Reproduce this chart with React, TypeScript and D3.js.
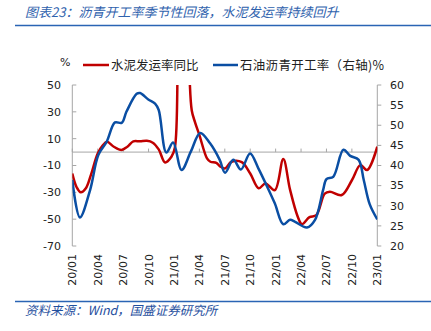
import React from "react";
import * as d3 from "d3";

// month index from 2020/01 (0) to 2023/01 (36)
const redMonths = [0, 0.5, 1.0, 1.6, 2.2, 3.0, 3.6, 4.1, 4.9, 5.8, 6.5, 7.2, 8.0, 8.8, 9.5, 10.2, 10.95, 11.7, 12.1, 12.5, 13.1, 13.7, 14.1, 14.5, 15.0, 15.9, 16.3, 17.0, 17.4, 18.0, 18.8, 20.0, 21.0, 22.0, 22.8, 23.9, 24.9, 25.7, 26.6, 27.1, 28.0, 28.8, 29.8, 30.4, 31.8, 33.0, 34.0, 34.8, 36.0];
const redValues = [-16, -26, -30, -27, -17, -1, 5, 7.7, 4, 1.5, 4, 8, 8, 8.4, 7, 2, -7.7, -3.5, 3, 80, 150, 80, 31, 22, 12.7, -4.7, -7.2, -8, -10.5, -12.2, -7.2, -7.5, -16, -27, -23.4, -28.4, -5.2, -28, -48, -53.7, -48.5, -47, -31, -29.6, -32, -21, -9.7, -13.4, 4];

const blueMonths = [0, 0.9, 2.1, 3.07, 4.06, 5.04, 5.83, 6.4, 7.6, 8.0, 8.97, 9.77, 10.2, 11.1, 11.9, 12.9, 14.0, 15.1, 16.26, 17.4, 18.03, 19.0, 19.9, 20.98, 21.96, 23.1, 23.9, 24.9, 25.7, 26.3, 27.7, 28.65, 29.6, 30.0, 30.8, 32.0, 32.8, 33.8, 34.4, 35.1, 36.0];
const blueValues = [36.4, 27.1, 33.9, 42.6, 45.9, 50.7, 50.6, 53.4, 57.8, 58, 56.4, 55.4, 53.8, 43.2, 45.7, 38.9, 43.5, 48.1, 45.5, 41.4, 38.2, 41.4, 39, 43, 39.3, 34.3, 30.6, 25.4, 26.5, 26, 24.6, 26.5, 33.9, 36.6, 37.2, 43.9, 42.4, 41.4, 36.4, 30.4, 26.6];

const xTickLabels = ["20/01", "20/04", "20/07", "20/10", "21/01", "21/04", "21/07", "21/10", "22/01", "22/04", "22/07", "22/10", "23/01"];
const leftTicks = [50, 30, 10, -10, -30, -50, -70];
const rightTicks = [60, 55, 50, 45, 40, 35, 30, 25, 20];

const titleText = "图表23：沥青开工率季节性回落，水泥发运率持续回升";
const sourceText = "资料来源：Wind，国盛证券研究所";
const legendRed = "水泥发运率同比";
const legendBlue = "石油沥青开工率（右轴)%";

const RED = "#c00000";
const BLUE = "#0a4ea3";
const AXIS = "#a6a6a6";
const NUM_FONT = "'DejaVu Sans', Verdana, sans-serif";
const CJK_FONT = "'Noto Sans CJK SC', sans-serif";

export default function App() {
  const W = 431, H = 331;
  const left = 72.3, right = 377.3, top = 85, bottom = 246;
  const x = d3.scaleLinear().domain([0, 36]).range([left, right]);
  const yL = d3.scaleLinear().domain([-70, 50]).range([bottom, top]);
  const yR = d3.scaleLinear().domain([20, 60]).range([bottom, top]);

  const redData = redMonths.map((m, i) => [m, redValues[i]] as [number, number]);
  const blueData = blueMonths.map((m, i) => [m, blueValues[i]] as [number, number]);

  const redLine = d3.line<[number, number]>().x(d => x(d[0])).y(d => yL(d[1])).curve(d3.curveCatmullRom.alpha(0.5));
  const blueLine = d3.line<[number, number]>().x(d => x(d[0])).y(d => yR(d[1])).curve(d3.curveCatmullRom.alpha(0.5));

  const y0 = yL(0);

  return (
    <svg width={W} height={H} style={{ position: "absolute", left: 0, top: 0, background: "#fff" }}>
      <defs>
        <clipPath id="plot">
          <rect x={left} y={top} width={right - left} height={bottom - top} />
        </clipPath>
      </defs>
      {/* title */}
      <text x={25} y={17} fontFamily={CJK_FONT} fontSize={13} fontStyle="italic" fill="#2f62ad">{titleText}</text>
      <line x1={15} x2={431} y1={25.5} y2={25.5} stroke="#2a64b4" strokeWidth={1.6} />

      {/* legend */}
      <text x={60} y={66} fontFamily={NUM_FONT} fontSize={11} fill="#222">%</text>
      <line x1={83} x2={109} y1={65} y2={65} stroke={RED} strokeWidth={2.5} />
      <text x={111} y={69.5} fontFamily={CJK_FONT} fontSize={12.5} fill="#222">{legendRed}</text>
      <line x1={213} x2={238} y1={65} y2={65} stroke={BLUE} strokeWidth={2.5} />
      <text x={240} y={69.5} fontFamily={CJK_FONT} fontSize={12.5} letterSpacing={0.3} fill="#222">{legendBlue}</text>

      {/* left axis */}
      <line x1={left} x2={left} y1={top} y2={bottom} stroke={AXIS} strokeWidth={1} />
      {leftTicks.map(t => (
        <g key={"l" + t}>
          <line x1={left} x2={left + 4} y1={yL(t)} y2={yL(t)} stroke={AXIS} />
          <text x={61} y={yL(t)} dy="0.35em" textAnchor="end" fontFamily={NUM_FONT} fontSize={11} fill="#222">{t}</text>
        </g>
      ))}
      {/* right axis */}
      <line x1={right} x2={right} y1={top} y2={bottom} stroke={AXIS} strokeWidth={1} />
      {rightTicks.map(t => (
        <g key={"r" + t}>
          <line x1={right} x2={right + 4} y1={yR(t)} y2={yR(t)} stroke={AXIS} />
          <text x={390} y={yR(t)} dy="0.35em" fontFamily={NUM_FONT} fontSize={11} fill="#222">{t}</text>
        </g>
      ))}
      {/* zero line (category axis) */}
      <line x1={left} x2={right} y1={y0} y2={y0} stroke={AXIS} strokeWidth={1} />
      {xTickLabels.map((lab, i) => (
        <g key={lab}>
          <line x1={x(i * 3)} x2={x(i * 3)} y1={y0} y2={y0 - 3.5} stroke={AXIS} />
          <text transform={`translate(${x(i * 3) + 4},254) rotate(-90)`} textAnchor="end" fontFamily={NUM_FONT} fontSize={11} fill="#222">{lab}</text>
        </g>
      ))}

      {/* series */}
      <g clipPath="url(#plot)">
        <path d={redLine(redData) || ""} fill="none" stroke={RED} strokeWidth={2.5} />
        <path d={blueLine(blueData) || ""} fill="none" stroke={BLUE} strokeWidth={2.5} />
      </g>

      {/* footer */}
      <line x1={15} x2={431} y1={301.5} y2={301.5} stroke="#2a64b4" strokeWidth={1.6} />
      <text x={25} y={315} fontFamily={CJK_FONT} fontSize={12.5} fontStyle="italic" fill="#1f4f9e">{sourceText}</text>
    </svg>
  );
}
